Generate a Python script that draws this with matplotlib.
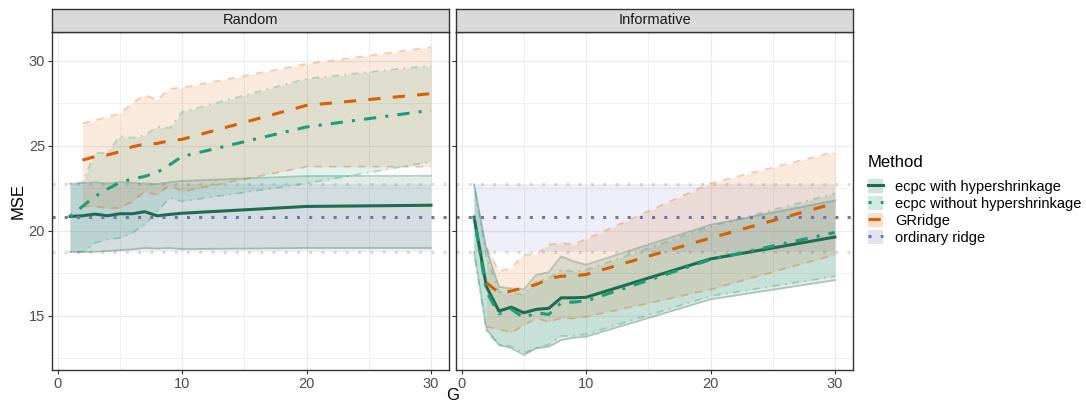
import matplotlib
matplotlib.use("Agg")
import matplotlib.pyplot as plt
from matplotlib.lines import Line2D
from matplotlib.patches import Patch
from matplotlib.ticker import MultipleLocator

plt.rcParams["font.family"] = ["Liberation Sans", "DejaVu Sans"]

# ---- data ----
g = [1, 2, 3, 4, 5, 6, 7, 8, 9, 10, 20, 30]
g_gr = g[1:]  # GRridge has no G = 1

ridge_mse, ridge_lo, ridge_hi = 20.82, 18.73, 22.77

# Random panel
rand_hyper = [20.84, 20.88, 20.98, 20.88, 21.0, 21.0, 21.12, 20.88, 20.96, 21.03, 21.43, 21.50]
rand_hyper_lo = [18.75, 18.75, 18.76, 18.8, 18.85, 18.9, 18.98, 18.95, 18.98, 18.92, 18.98, 18.98]
rand_hyper_hi = [22.77, 22.8, 22.85, 22.78, 22.86, 22.82, 22.78, 22.75, 22.85, 22.93, 23.22, 23.24]
rand_nohyp = [20.84, 21.43, 22.02, 22.45, 22.84, 23.04, 23.2, 23.43, 23.88, 24.37, 26.11, 27.09]
rand_nohyp_lo = [18.75, 18.75, 19.28, 19.48, 19.58, 19.87, 20.36, 21.14, 21.93, 21.73, 22.79, 24.06]
rand_nohyp_hi = [22.77, 22.82, 24.58, 24.58, 25.56, 25.47, 25.63, 26.11, 26.05, 26.99, 28.95, 29.73]
rand_gr = [24.16, 24.36, 24.46, 24.65, 24.94, 25.1, 25.14, 25.3, 25.38, 27.38, 28.07]
rand_gr_lo = [21.43, 21.43, 21.33, 21.33, 21.72, 22.3, 22.11, 22.7, 22.3, 23.77, 23.77]
rand_gr_hi = [26.33, 26.5, 26.7, 26.9, 27.5, 28.0, 27.7, 28.36, 28.42, 29.82, 30.8]

# Informative panel
inf_hyper = [20.8, 16.7, 15.27, 15.5, 15.17, 15.37, 15.43, 16.05, 16.05, 16.08, 18.34, 19.63]
inf_hyper_lo = [18.75, 14.2, 13.27, 13.08, 12.69, 13.08, 13.17, 13.56, 13.7, 13.76, 15.96, 17.09]
inf_hyper_hi = [22.74, 18.9, 16.7, 16.6, 16.55, 17.4, 17.56, 18.49, 18.2, 18.0, 20.35, 21.78]
inf_nohyp = [20.8, 16.4, 15.11, 15.37, 14.88, 15.17, 15.07, 15.76, 15.8, 15.86, 18.3, 19.9]
inf_nohyp_lo = [18.75, 14.05, 13.3, 13.2, 12.8, 13.1, 13.3, 13.8, 13.8, 13.9, 16.15, 17.32]
inf_nohyp_hi = [22.74, 18.5, 16.4, 16.3, 16.3, 17.0, 17.2, 17.7, 17.6, 17.7, 20.25, 22.2]
inf_gr = [16.93, 16.35, 16.45, 16.64, 16.83, 17.18, 17.32, 17.34, 17.42, 19.57, 21.62]
inf_gr_lo = [14.34, 14.2, 14.0, 14.44, 14.83, 14.64, 14.85, 14.83, 14.93, 16.54, 18.59]
inf_gr_hi = [19.0, 17.61, 17.8, 18.59, 18.59, 19.18, 19.28, 19.2, 19.5, 22.79, 24.65]

panels = ["Random", "Informative"]
methods = ["ecpc with hypershrinkage", "ecpc without hypershrinkage", "GRridge", "ordinary ridge"]

# ---- style ----
C_HYPER, C_NOHYP, C_GR, C_RIDGE = "#1E6B50", "#1B9E77", "#D95F02", "#7570B3"
LS_HYPER = "-"
LS_NOHYP = (0, (1, 3, 4, 3))
LS_GR = (0, (4, 4))
LS_RIDGE = (0, (1, 3))
LW = 2.2
FILL_A, EDGE_A = 0.13, 0.3
GRID = "#EBEBEB"
INK = "#333333"
TICK_INK = "#4D4D4D"

W, H = 1086, 403
fig = plt.figure(figsize=(W / 100, H / 100), dpi=100)


def fx(px):
    return px / W


def fy(py):
    return 1 - py / H


panel_x = [52, 456]
panel_w = 397
top, bottom = 32, 370

data = {
    "Random": [(g, rand_hyper, rand_hyper_lo, rand_hyper_hi, C_HYPER, LS_HYPER),
               (g, rand_nohyp, rand_nohyp_lo, rand_nohyp_hi, C_NOHYP, LS_NOHYP),
               (g_gr, rand_gr, rand_gr_lo, rand_gr_hi, C_GR, LS_GR)],
    "Informative": [(g, inf_hyper, inf_hyper_lo, inf_hyper_hi, C_HYPER, LS_HYPER),
                    (g, inf_nohyp, inf_nohyp_lo, inf_nohyp_hi, C_NOHYP, LS_NOHYP),
                    (g_gr, inf_gr, inf_gr_lo, inf_gr_hi, C_GR, LS_GR)],
}

for i, name in enumerate(panels):
    ax = fig.add_axes([fx(panel_x[i]), fy(bottom), fx(panel_w), (bottom - top) / H])
    ax.set_xlim(-0.45, 31.45)
    ax.set_ylim(11.8, 31.7)
    ax.xaxis.set_major_locator(MultipleLocator(10))
    ax.xaxis.set_minor_locator(MultipleLocator(5))
    ax.yaxis.set_major_locator(MultipleLocator(5))
    ax.yaxis.set_minor_locator(MultipleLocator(2.5))
    ax.grid(which="major", color=GRID, lw=0.9)
    ax.grid(which="minor", color=GRID, lw=0.5)
    ax.set_axisbelow(True)
    for s in ax.spines.values():
        s.set_color(INK)
        s.set_linewidth(1.0)
    ax.tick_params(which="major", length=3, color=INK, labelcolor=TICK_INK, labelsize=10.5, pad=2)
    ax.tick_params(which="minor", length=0)
    if i == 1:
        ax.tick_params(axis="y", labelleft=False)

    # ordinary ridge band + lines
    ax.fill_between(g, ridge_lo, ridge_hi, color=C_RIDGE, alpha=FILL_A * 0.9, lw=0)
    for v in (ridge_lo, ridge_hi):
        ax.axhline(v, color=C_RIDGE, alpha=0.25, lw=LW, ls=LS_RIDGE)

    for xs, mid, lo, hi, c, ls in data[name]:
        ax.fill_between(xs, lo, hi, color=c, alpha=FILL_A, lw=0)
        ax.plot(xs, lo, color=c, alpha=EDGE_A, lw=1.3, ls=ls)
        ax.plot(xs, hi, color=c, alpha=EDGE_A, lw=1.3, ls=ls)
    for xs, mid, lo, hi, c, ls in data[name]:
        ax.plot(xs, mid, color=c, lw=LW, ls=ls)
    ax.axhline(ridge_mse, color=C_RIDGE, lw=LW, ls=LS_RIDGE)

    # facet strip
    sax = fig.add_axes([fx(panel_x[i]), fy(top), fx(panel_w), 23 / H])
    sax.set_facecolor("#D9D9D9")
    sax.set_xticks([])
    sax.set_yticks([])
    for s in sax.spines.values():
        s.set_color(INK)
        s.set_linewidth(1.0)
    sax.text(0.5, 0.5, name, ha="center", va="center", fontsize=10.5, color="#1A1A1A",
             transform=sax.transAxes)

fig.text(fx(18), fy(201), "MSE", rotation=90, ha="center", va="center", fontsize=12)
fig.text(fx(453), fy(395), "G", ha="center", va="center", fontsize=12)

handles = []
for c, ls in [(C_HYPER, LS_HYPER), (C_NOHYP, LS_NOHYP), (C_GR, LS_GR), (C_RIDGE, LS_RIDGE)]:
    handles.append((Patch(facecolor=c, alpha=0.2, edgecolor="none"),
                    Line2D([], [], color=c, lw=LW, ls=ls)))
fig.text(fx(868), fy(163), "Method", ha="left", va="center", fontsize=12)
leg = fig.legend(handles, methods, loc="upper left",
                 bbox_to_anchor=(fx(868), fy(179)), frameon=False, fontsize=10.5,
                 handlelength=1.0, handleheight=1.15,
                 labelspacing=0.12, handletextpad=0.85,
                 borderaxespad=0, borderpad=0)

fig.savefig("out.png", dpi=100)
